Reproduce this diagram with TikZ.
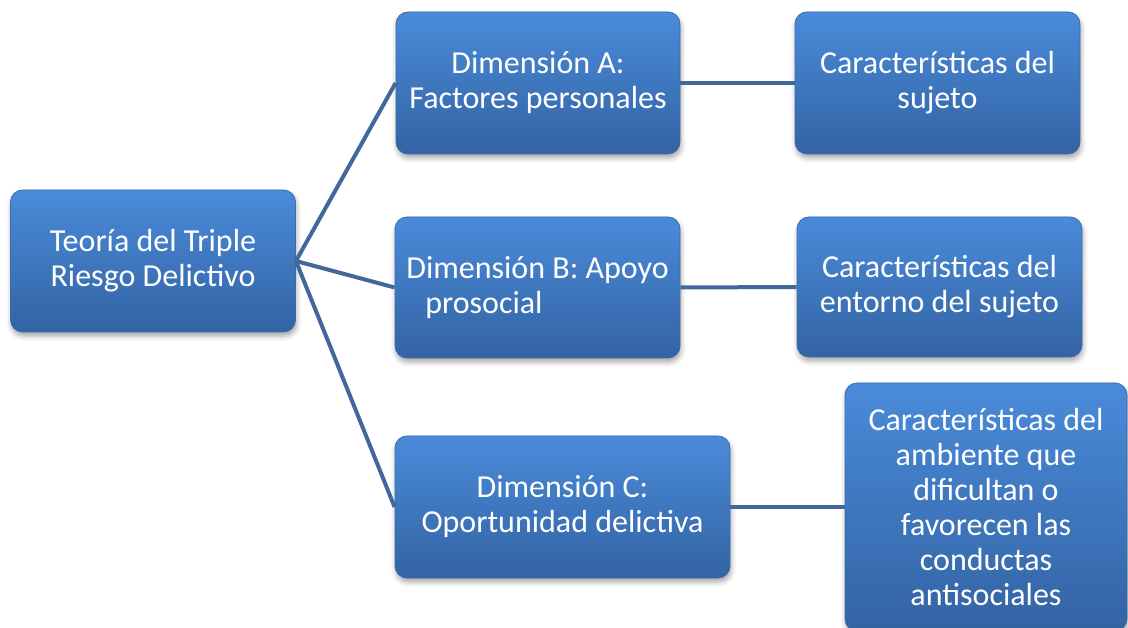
\documentclass[tikz,border=0pt]{standalone}
\usepackage{fontspec}
\setmainfont{Carlito}
\usetikzlibrary{shadows.blur}
\definecolor{boxtop}{HTML}{4A8BDA}
\definecolor{boxbot}{HTML}{3363A3}
\definecolor{boxedge}{HTML}{3A6BAA}
\definecolor{linkc}{HTML}{41679D}
\tikzset{
  box/.style={draw=boxedge, line width=0.8pt, rounded corners=12pt,
    top color=boxtop, bottom color=boxbot, text=white, align=center,
    font=\fontsize{32}{35}\selectfont, inner sep=0pt,
    blur shadow={shadow xshift=1pt, shadow yshift=-4pt, shadow blur radius=5pt, shadow opacity=35}},
  link/.style={draw=linkc, line width=4pt}
}
\begin{document}
\begin{tikzpicture}[x=1pt,y=-1pt]
\useasboundingbox (0,0) rectangle (1128,628);
\begin{scope}
\clip (0,0) rectangle (1128,628);
\node[box, minimum width=285pt, minimum height=142pt] (root) at (153,261) {Teoría del Triple\\Riesgo Delictivo};
\node[box, minimum width=284pt, minimum height=142pt] (a) at (538,83) {Dimensión A:\\Factores personales};
\node[box, minimum width=285pt, minimum height=142pt] (a2) at (937.5,83) {Características del\\sujeto};
\node[box, minimum width=285pt, minimum height=141pt, align=left] (b) at (537.5,287.5) {Dimensión B: Apoyo\\\hspace*{19pt}prosocial};
\node[box, minimum width=285pt, minimum height=140pt] (b2) at (939.5,287) {Características del\\entorno del sujeto};
\node[box, minimum width=335pt, minimum height=142pt] (c) at (562.5,507) {Dimensión C:\\Oportunidad delictiva};
\node[box, minimum width=282pt, minimum height=248pt] (c2) at (986,507) {Características del\\ambiente que\\dificultan o\\favorecen las\\conductas\\antisociales};
\coordinate (hub) at (root.east);
\draw[link] (hub) -- (a.west);
\draw[link] (hub) -- (b.west);
\draw[link] (hub) -- (c.west);
\draw[link] (a.east) -- (a2.west);
\draw[link] (b.east) -- (b2.west);
\draw[link] (c.east) -- (c2.west);
\end{scope}
\end{tikzpicture}
\end{document}
